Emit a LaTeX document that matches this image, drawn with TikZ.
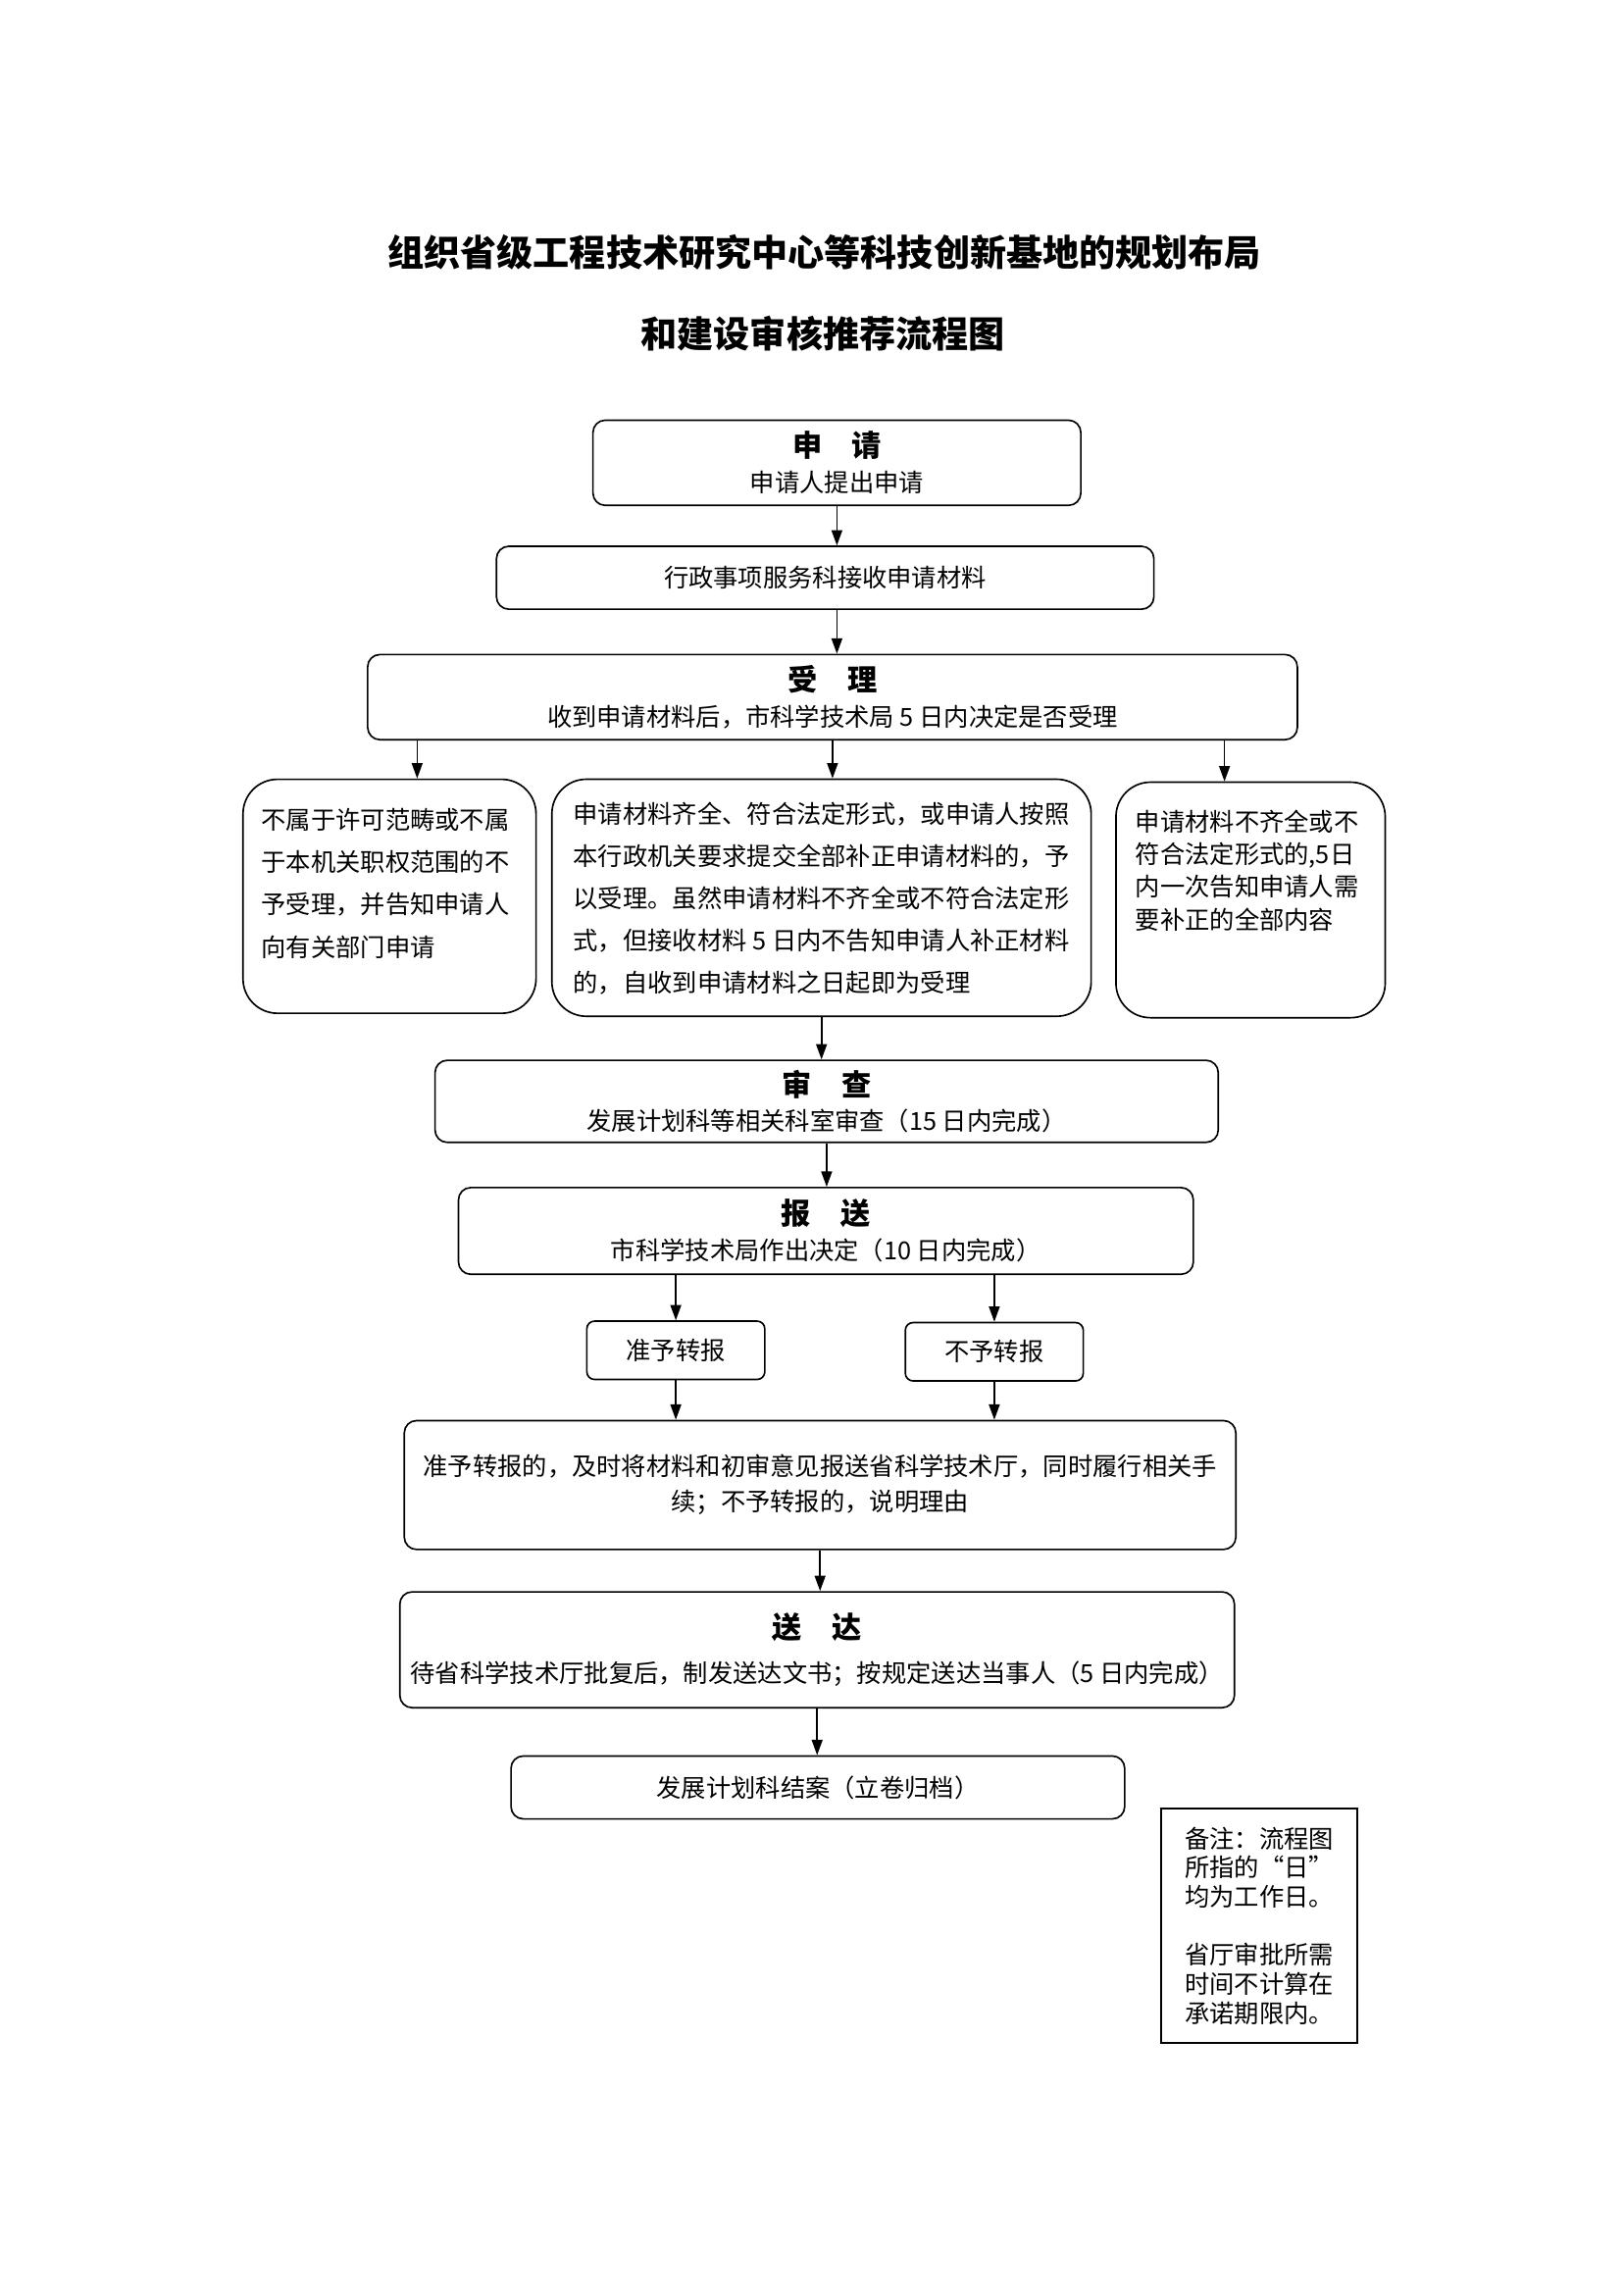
\documentclass[tikz,border=0pt]{standalone}
\usepackage{fontspec}
\setmainfont{Noto Sans CJK SC}
\usetikzlibrary{arrows.meta}

\newcommand\boxhead[1]{{\fontsize{11}{13}\selectfont\bfseries #1}}

\begin{document}
\begin{tikzpicture}[x=0.1909mm,y=-0.1909mm,
  box/.style={draw, line width=0.6pt, rounded corners=1.6mm, align=center,
    inner sep=0pt, font=\fontsize{9.2}{13}\selectfont},
  bigbox/.style={draw, line width=0.6pt, rounded corners=4.5mm, inner sep=0pt,
    font=\fontsize{9.2}{15.7}\selectfont},
  smallbox/.style={box, rounded corners=1mm, minimum width=23.2mm, minimum height=7.6mm},
  arr/.style={line width=0.6pt, -{Triangle[length=2mm,width=1.4mm]}},
  ]
  \useasboundingbox (0,0) rectangle (1109,1566.4);

  % title
  \node[font=\fontsize{13.5}{16}\selectfont\bfseries] (title1) at (563,172)
    {组织省级工程技术研究中心等科技创新基地的规划布局};
  \node[font=\fontsize{13.5}{16}\selectfont\bfseries] (title2) at (562,228)
    {和建设审核推荐流程图};

  % application and acceptance
  \node[box, minimum width=63.6mm, minimum height=11.1mm] (apply) at (571.5,316)
    {\boxhead{申\hspace{1em}请}\\申请人提出申请};
  \node[box, minimum width=85.7mm, minimum height=8.2mm] (receive) at (563.5,394.5)
    {行政事项服务科接收申请材料};
  \node[box, minimum width=121.2mm, minimum height=11.1mm] (accept) at (568.5,476)
    {\boxhead{受\hspace{1em}理}\\收到申请材料后，市科学技术局 5 日内决定是否受理};

  % three outcomes
  \node[bigbox, minimum width=38.2mm, minimum height=30.5mm] (reject) at (266,612)
    {\parbox[c][22.9mm][t]{33.4mm}{不属于许可范畴或不属\\于本机关职权范围的不\\予受理，并告知申请人\\向有关部门申请}};
  \node[bigbox, minimum width=70.3mm, minimum height=30.9mm] (admit) at (561,613)
    {\parbox[c][25mm][t]{64.7mm}{申请材料齐全、符合法定形式，或申请人按照\\本行政机关要求提交全部补正申请材料的，予\\以受理。虽然申请材料不齐全或不符合法定形\\式，但接收材料 5 日内不告知申请人补正材料\\的，自收到申请材料之日起即为受理}};
  \node[bigbox, minimum width=35.1mm, minimum height=30.7mm,
    font=\fontsize{9.2}{12.1}\selectfont] (amend) at (854,614.5)
    {\parbox[c][23.5mm][t]{30mm}{申请材料不齐全或不\\符合法定形式的,5日\\内一次告知申请人需\\要补正的全部内容}};

  % review and report
  \node[box, minimum width=102.1mm, minimum height=10.7mm] (review) at (564.5,752)
    {\boxhead{审\hspace{1em}查}\\发展计划科等相关科室审查（15 日内完成）};
  \node[box, minimum width=95.8mm, minimum height=11.3mm] (report) at (564,840.5)
    {\boxhead{报\hspace{1em}送}\\市科学技术局作出决定（10 日内完成）};
  \node[smallbox] (approve) at (461.5,922) {准予转报};
  \node[smallbox] (deny) at (679,923) {不予转报};
  \node[box, minimum width=108.4mm, minimum height=16.8mm] (forward) at (560,1014)
    {准予转报的，及时将材料和初审意见报送省科学技术厅，同时履行相关手\\续；不予转报的，说明理由};

  % delivery and archive
  \node[box, minimum width=108.8mm, minimum height=15.1mm] (deliver) at (558,1126.5)
    {\boxhead{送\hspace{1em}达}\\[1.2mm]待省科学技术厅批复后，制发送达文书；按规定送达当事人（5 日内完成）};
  \node[box, minimum width=80mm, minimum height=8.2mm] (archive) at (558.5,1220.5)
    {发展计划科结案（立卷归档）};

  % remark
  \node[draw, line width=0.8pt, minimum width=25.6mm, minimum height=30.5mm, align=left,
    font=\fontsize{9.2}{10.8}\selectfont] (remark) at (860,1315)
    {备注：流程图\\所指的“日”\\均为工作日。\\[10.8pt]省厅审批所需\\时间不计算在\\承诺期限内。};

  % arrows
  \draw[arr] (apply.south) -- (apply.south |- receive.north);
  \draw[arr] (apply.south |- receive.south) -- (apply.south |- accept.north);
  \draw[arr] ([xshift=3.6mm]reject.north |- accept.south) -- ([xshift=3.6mm]reject.north);
  \draw[arr] (accept.south) -- (accept.south |- admit.north);
  \draw[arr] ([xshift=-3.4mm]amend.north |- accept.south) -- ([xshift=-3.4mm]amend.north);
  \draw[arr] (admit.south) -- (admit.south |- review.north);
  \draw[arr] (review.south) -- (review.south |- report.north);
  \foreach \b in {approve,deny} {
    \draw[arr] (\b.north |- report.south) -- (\b.north);
    \draw[arr] (\b.south) -- (\b.south |- forward.north);
  }
  \draw[arr] (forward.south) -- (forward.south |- deliver.north);
  \draw[arr] (deliver.south) -- (deliver.south |- archive.north);
\end{tikzpicture}
\end{document}
